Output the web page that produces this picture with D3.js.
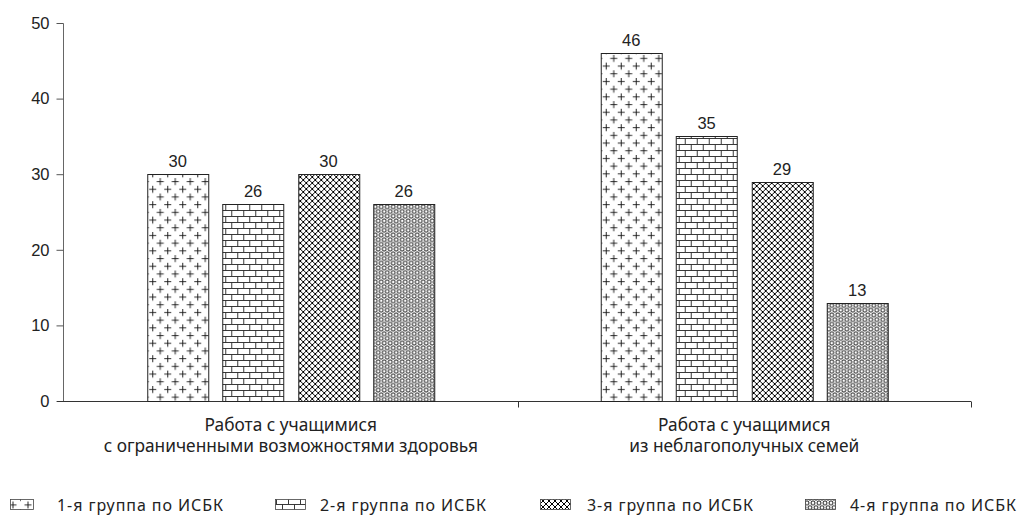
<!DOCTYPE html>
<html><head><meta charset="utf-8">
<script src="https://cdn.jsdelivr.net/npm/d3@7"></script>
<style>body{margin:0;background:#fff}</style>
</head><body>
<svg id="chart" width="1022" height="517"></svg>
<script>
const categories = [
  ["Работа с учащимися", "с ограниченными возможностями здоровья"],
  ["Работа с учащимися", "из неблагополучных семей"]
];
const groups = ["1-я группа по ИСБК", "2-я группа по ИСБК", "3-я группа по ИСБК", "4-я группа по ИСБК"];
const values1 = [30, 26, 30, 26];
const values2 = [46, 35, 29, 13];
const yTicks = [0, 10, 20, 30, 40, 50];

const data = [values1, values2];
const svg = d3.select("#chart");
const defs = svg.append("defs");

// patterns
const p0 = defs.append("pattern").attr("id","pat0").attr("patternUnits","userSpaceOnUse")
  .attr("width",15).attr("height",15.4).attr("x",2).attr("y",1);
p0.append("rect").attr("width",15).attr("height",15.4).attr("fill","#fff");
[[3.5,3.5],[11,11.2]].forEach(([cx,cy])=>{
  p0.append("path").attr("d",`M${cx-3.5},${cy}H${cx+3.5}M${cx},${cy-3.5}V${cy+3.5}`).attr("stroke","#111").attr("stroke-width",0.9);
});
const p1 = defs.append("pattern").attr("id","pat1").attr("patternUnits","userSpaceOnUse")
  .attr("width",24).attr("height",12);
p1.append("rect").attr("width",24).attr("height",12).attr("fill","#fff");
p1.append("path").attr("d","M0,0.5H24M0,6.5H24M6.5,0.5V6.5M18.5,0.5V6.5M0.5,6.5V12.5M12.5,6.5V12.5")
  .attr("stroke","#222").attr("stroke-width",0.9).attr("fill","none");
const p2 = defs.append("pattern").attr("id","pat2").attr("patternUnits","userSpaceOnUse")
  .attr("width",6).attr("height",6);
p2.append("rect").attr("width",6).attr("height",6).attr("fill","#fff");
p2.append("path").attr("d","M-1,-1L7,7M-1,7L7,-1M-4,2L2,-4M4,8L8,4M-4,4L2,10M4,-2L8,2")
  .attr("stroke","#000").attr("stroke-width",1).attr("fill","none");
const p3 = defs.append("pattern").attr("id","pat3").attr("patternUnits","userSpaceOnUse")
  .attr("width",6).attr("height",9.4);
p3.append("rect").attr("width",6).attr("height",9.4).attr("fill","#fff");
[[0,0],[6,0],[3,4.7],[0,9.4],[6,9.4]].forEach(([cx,cy])=>{
  p3.append("circle").attr("cx",cx).attr("cy",cy).attr("r",2).attr("fill","none").attr("stroke","#000").attr("stroke-width",0.9);
});
const fills = ["url(#pat0)","url(#pat1)","url(#pat2)","url(#pat3)"];

const x0 = d3.scaleBand().domain([0,1]).range([64, 971]);
const y = d3.scaleLinear().domain([0,50]).range([401, 23]);
const x1 = d3.scaleBand().domain([0,1,2,3]).range([0, 287]).paddingInner(0.19);

// y axis
const yAxis = svg.append("g").attr("transform","translate(63.5,0)")
  .call(d3.axisLeft(y).tickValues(yTicks).tickSize(7).tickPadding(7));
yAxis.select(".domain").attr("stroke","#666").attr("d","M0,23.5V401.5");
yAxis.selectAll(".tick line").attr("stroke","#555");
yAxis.selectAll("text").attr("font-family","Liberation Sans, Arial, sans-serif").attr("font-size",16.5).attr("fill","#222");

// x axis
const xAxis = svg.append("g").attr("transform","translate(0,401.5)");
xAxis.append("line").attr("x1",57).attr("x2",971).attr("stroke","#333");
[0,1].forEach(i=>{
  xAxis.append("line").attr("x1",Math.round(x0(i)+x0.bandwidth())+0.5).attr("x2",Math.round(x0(i)+x0.bandwidth())+0.5)
    .attr("y1",0).attr("y2",6).attr("stroke","#333");
});

// bars
data.forEach((vals, gi) => {
  const gx = x0(gi) + (x0.bandwidth() - 287)/2;
  const g = svg.append("g").attr("transform",`translate(${gx},0)`);
  g.selectAll("rect").data(vals).enter().append("rect")
    .attr("x",(d,i)=>Math.round(x1(i))+0.5)
    .attr("y",d=>Math.round(y(d))+0.5)
    .attr("width",Math.round(x1.bandwidth()))
    .attr("height",d=>Math.round(y(0))-Math.round(y(d)))
    .attr("fill",(d,i)=>fills[i]).attr("stroke","#222").attr("stroke-width",1);
  g.selectAll("text.v").data(vals).enter().append("text").attr("class","v")
    .attr("x",(d,i)=>x1(i)+x1.bandwidth()/2)
    .attr("y",d=>y(d)-7)
    .attr("text-anchor","middle")
    .attr("font-family","Liberation Sans, Arial, sans-serif").attr("font-size",16.5).attr("fill","#222")
    .text(d=>d);
  const cat = svg.append("text").attr("text-anchor","middle")
    .attr("font-family","Noto Sans, sans-serif").attr("font-size",17.3).attr("fill","#222");
  categories[gi].forEach((line, li) => {
    cat.append("tspan").attr("x", x0(gi)+x0.bandwidth()/2).attr("y", 431 + li*21).text(line);
  });
});

// legend
const legX = [10, 275, 540, 805];
const legW = [23, 30, 30, 30];
const legTextX = [57, 320, 587, 850];
groups.forEach((name,i)=>{
  svg.append("rect").attr("x",legX[i]+0.5).attr("y",499.5).attr("width",legW[i]).attr("height",10)
    .attr("fill",fills[i]).attr("stroke","#444").attr("stroke-width",0.8);
  svg.append("text").attr("x",legTextX[i]).attr("y",510.5)
    .attr("font-family","Noto Sans, sans-serif").attr("font-size",16).attr("fill","#222")
    .attr("textLength",166).attr("lengthAdjust","spacing")
    .text(name);
});
</script>
</body></html>
